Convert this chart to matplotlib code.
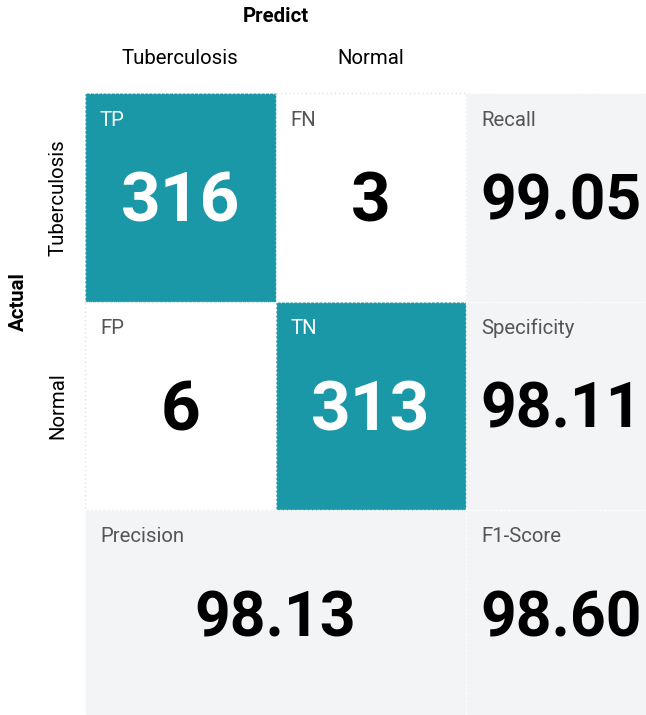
import matplotlib.pyplot as plt
from matplotlib.patches import Rectangle

plt.rcParams["font.family"] = ["Roboto", "DejaVu Sans"]

classes = ["Tuberculosis", "Normal"]
cell_tags = [["TP", "FN"], ["FP", "TN"]]
cell_counts = [[316, 3], [6, 313]]
metric_names = ["Recall", "Specificity", "Precision", "F1-Score"]
metric_values = ["99.05", "98.11", "98.13", "98.60"]

TEAL = "#1b98a8"
GRAY = "#f3f4f6"
LABEL_SIZE = 14.7

# grid geometry in pixels
X0, Y0 = 85, 93
CW, CH = 190.5, 208.5

fig = plt.figure(figsize=(6.46, 7.15), dpi=100)
ax = fig.add_axes([0, 0, 1, 1])
ax.set_xlim(0, 646)
ax.set_ylim(715, 0)
ax.axis("off")


def cell(col, row, ncols, face, tag, value, tag_color, value_color, size):
    x, y = X0 + col * CW, Y0 + row * CH
    edge = "#e2e2e2" if face == "white" else "white"
    ax.add_patch(Rectangle((x, y), ncols * CW, CH, facecolor=face, edgecolor=edge,
                           linestyle=(0, (1, 2)), linewidth=1))
    ax.text(x + 15, y + 27, tag, fontsize=LABEL_SIZE, color=tag_color, ha="left", va="center")
    # baseline placed so the digits sit centred in the cell
    ax.text(x + ncols * CW / 2, y + CH / 2 + 0.49 * size, value, fontsize=size,
            fontweight="bold", color=value_color, ha="center", va="baseline")


for r in range(2):
    for c in range(2):
        diag = r == c
        cell(c, r, 1, TEAL if diag else "white", cell_tags[r][c], str(cell_counts[r][c]),
             "white" if diag else "#555555", "white" if diag else "black", 50)

cell(2, 0, 1, GRAY, metric_names[0], metric_values[0], "#555555", "black", 45)
cell(2, 1, 1, GRAY, metric_names[1], metric_values[1], "#555555", "black", 45)
cell(0, 2, 2, GRAY, metric_names[2], metric_values[2], "#555555", "black", 45)
cell(2, 2, 1, GRAY, metric_names[3], metric_values[3], "#555555", "black", 45)

ax.text(X0 + CW, 17, "Predict", fontsize=LABEL_SIZE, fontweight="bold", ha="center",
        va="center")
ax.text(18, Y0 + CH, "Actual", fontsize=LABEL_SIZE, fontweight="bold", ha="center",
        va="center", rotation=90)
for i, name in enumerate(classes):
    ax.text(X0 + (i + 0.5) * CW, 59, name, fontsize=LABEL_SIZE, ha="center", va="center")
    ax.text(58, Y0 + (i + 0.5) * CH, name, fontsize=LABEL_SIZE, ha="center", va="center",
            rotation=90)

fig.savefig("out.png", dpi=100)
